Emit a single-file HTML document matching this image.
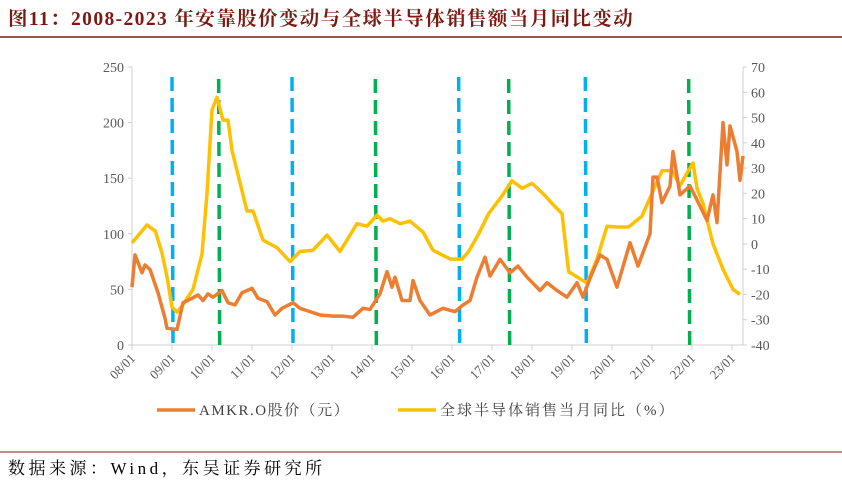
<!DOCTYPE html>
<html><head><meta charset="utf-8"><style>
body{margin:0;background:#fff;}
#wrap{position:relative;width:842px;height:489px;overflow:hidden;font-family:"Liberation Serif","Noto Serif CJK SC",serif;}
</style></head><body>
<div id="wrap">
<svg id="svg" width="842" height="489" xmlns="http://www.w3.org/2000/svg">
<text x="8" y="25" font-size="19.5" letter-spacing="1.4" font-weight="bold" fill="#7a1a12" font-family="Liberation Serif, Noto Serif CJK SC, serif">图11：2008-2023 年安靠股价变动与全球半导体销售额当月同比变动</text>
<line x1="0" y1="37" x2="842" y2="37" stroke="#7a1a12" stroke-width="1.5"/>
<line x1="0" y1="452" x2="842" y2="452" stroke="#7a1a12" stroke-width="1"/>
<text x="8" y="474" font-size="17" letter-spacing="3.5" fill="#000" font-family="Liberation Serif, Noto Serif CJK SC, serif">数据来源：Wind，东吴证券研究所</text>
<g id="plot"></g>
</svg>
</div>
<script>
const yearLabels=["08/01","09/01","10/01","11/01","12/01","13/01","14/01","15/01","16/01","17/01","18/01","19/01","20/01","21/01","22/01","23/01"];
const leftTicks=[0,50,100,150,200,250];
const rightTicks=[-40,-30,-20,-10,0,10,20,30,40,50,60,70];
const amkrMonths=[0,0.9,3,3.9,5.4,7.8,9.9,10.5,13.5,15.3,18,19.8,21.3,22.8,24.3,27,28.8,30.9,33,36,37.8,40.5,42.9,45,48.3,50.4,53.4,56.4,60.3,63.3,66.3,69.3,71.4,74.4,76.5,78,78.9,81,83.4,84.3,86.4,89.4,93.3,96.9,99.3,101.4,103.5,105.9,107.4,110.4,113.4,115.8,118.5,122.4,124.5,127.5,130.5,133.5,135.3,137.4,140.4,142.5,145.5,149.4,151.8,155.4,156.3,157.5,159,161.4,162.3,164.4,167.4,170.4,172.5,174.3,175.5,177.3,178.5,179.4,181.5,182.4,183.3];
const amkrValues=[52,81,65,72,68,47,24,15,14,38,42,45,40,46,43,49,38,36,47,51,42,39,27,33,38,33,30,27,26,26,25,33,32,46,66,52,61,40,40,58,40,27,33,30,36,40,61,79,62,77,65,71,61,49,56,49,43,56,43,60,81,77,52,92,71,100,151,151,128,143,174,135,143,125,112,135,110,200,162,197,174,148,170];
const semiMonths=[0,4.5,7,9,10.5,12,13.5,15.3,18.3,21,22.5,24,25.5,27.3,28.8,30,31.5,34.5,36.3,39.3,43.5,47.4,50.4,54.3,58.5,62.4,67.5,70.5,73.5,75.3,77.4,80.4,83.4,87.3,90.3,92.5,95.5,99,101,104,107,111,114,117,120,124,126,129,131,136.5,139.5,142.5,145.5,149,153,159,162,164.4,166.5,168.3,169.5,171.3,174.3,177.3,180.3,182.4];
const semiValues=[0.4,7.5,5,-3.6,-13,-25,-27,-24,-18,-4,20,53,58,49,49,37,29,13,13,1.5,-1.5,-7,-3,-2.5,3.5,-3,8,7,11.4,9,10,8,9,4.7,-2.5,-4,-6,-6,-3,4,12,19,25,22,24,19,16,12,-11,-15.5,-6,7,6.7,6.7,11,29,29,23,28,32,22,16,0,-10,-18,-20];
const blueLines=[12,48,98,136];
const greenLines=[26,73,113,167];

const X0=132,YW=40,TOP=67,BOT=345,XR=743;
const xs=m=>X0+m*YW/12;
const yl=v=>BOT-(v/250)*(BOT-TOP);
const yr=v=>BOT-((v+40)/110)*(BOT-TOP);
const NS="http://www.w3.org/2000/svg";
const g=document.getElementById('plot');
function mk(t,a){const e=document.createElementNS(NS,t);for(const k in a)e.setAttribute(k,a[k]);g.appendChild(e);return e;}
const ff="Liberation Serif, serif";
let e;
e=mk('line',{x1:X0,y1:TOP,x2:X0,y2:BOT,stroke:'#d0d0d0'});


e=mk('line',{x1:XR,y1:TOP,x2:XR,y2:BOT,stroke:'#d0d0d0'});


e=mk('line',{x1:X0,y1:BOT,x2:XR,y2:BOT,stroke:'#d0d0d0'});


leftTicks.forEach(v=>{
 e=mk('text',{x:X0-8,y:yl(v)+5,'text-anchor':'end','font-size':14,fill:'#595959','font-family':ff});e.textContent=v;
 
 
 mk('line',{x1:X0-4,y1:yl(v),x2:X0,y2:yl(v),stroke:'#d0d0d0'});
});
rightTicks.forEach(v=>{
 e=mk('text',{x:XR+8,y:yr(v)+5,'font-size':14,fill:'#595959','font-family':ff});e.textContent=v;
 
 
 mk('line',{x1:XR,y1:yr(v),x2:XR+4,y2:yr(v),stroke:'#d0d0d0'});
});
yearLabels.forEach((l,i)=>{
 const x=xs(i*12);
 mk('line',{x1:x,y1:BOT,x2:x,y2:BOT+5,stroke:'#d0d0d0'});
 e=mk('text',{x:x+4,y:BOT+14,'text-anchor':'end','font-size':13,fill:'#595959','font-family':ff,transform:`rotate(-45 ${x+4} ${BOT+14})`});e.textContent=l;
 
 
});
blueLines.forEach(m=>{e=mk('line',{x1:xs(m),y1:77,x2:xs(m)+1,y2:BOT,stroke:'#00b0f0','stroke-width':3.5,'stroke-dasharray':'14,7'});
 
 });
greenLines.forEach(m=>{e=mk('line',{x1:xs(m),y1:79,x2:xs(m)+1,y2:BOT,stroke:'#00b050','stroke-width':3.5,'stroke-dasharray':'14,7'});
 
 });
e=mk('polyline',{points:semiMonths.map((m,i)=>xs(m)+','+yr(semiValues[i])).join(' '),fill:'none',stroke:'#ffc000','stroke-width':3.5,'stroke-linejoin':'round'});


e=mk('polyline',{points:amkrMonths.map((m,i)=>xs(m)+','+yl(amkrValues[i])).join(' '),fill:'none',stroke:'#ed7d31','stroke-width':3.5,'stroke-linejoin':'round'});


e=mk('line',{x1:157,y1:410,x2:195,y2:410,stroke:'#ed7d31','stroke-width':3.5});


e=mk('text',{x:199,y:415,'font-size':15,'letter-spacing':1.5,fill:'#404040','font-family':'Liberation Serif, Noto Serif CJK SC, serif'});e.textContent='AMKR.O股价（元）';


e=mk('line',{x1:398,y1:410,x2:436,y2:410,stroke:'#ffc000','stroke-width':3.5});


e=mk('text',{x:440,y:415,'font-size':15,'letter-spacing':2,fill:'#404040','font-family':'Liberation Serif, Noto Serif CJK SC, serif'});e.textContent='全球半导体销售当月同比（%）';


</script>
</body></html>
